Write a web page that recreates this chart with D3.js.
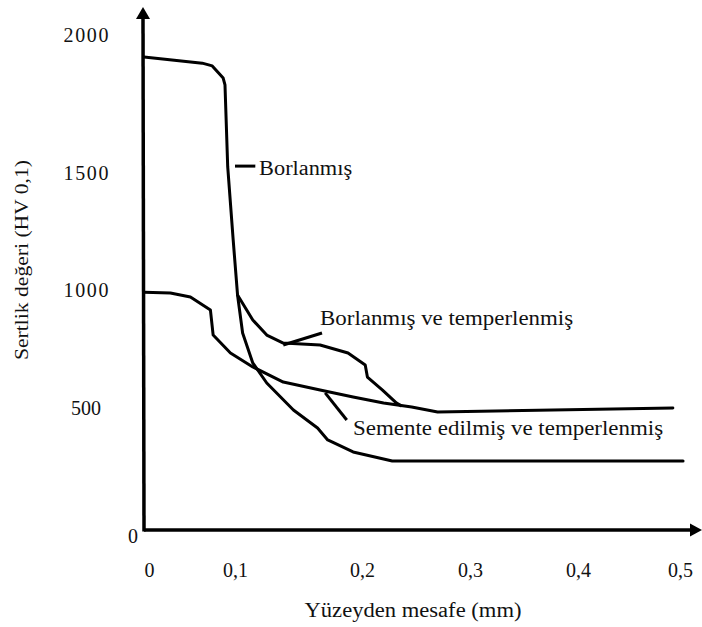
<!DOCTYPE html>
<html>
<head>
<meta charset="utf-8">
<script src="https://cdn.jsdelivr.net/npm/d3@7"></script>
<style>
  body { margin: 0; background: #fff; }
  text { font-family: "Liberation Serif", "DejaVu Serif", serif; fill: #111; }
</style>
</head>
<body>
<script>
// hardness profiles, [distance mm, HV 0.1]
const borlanmis = [[0, 1920], [0.064, 1898], [0.075, 1888], [0.081, 1866], [0.087, 1844],
  [0.089, 1819], [0.092, 1522], [0.098, 1214], [0.102, 979], [0.106, 818], [0.114, 691],
  [0.125, 606], [0.146, 492], [0.165, 418], [0.173, 369], [0.193, 320], [0.228, 283], [0.503, 283]];
const borlanmisTemper = [[0.102, 979], [0.114, 873], [0.125, 809], [0.138, 775], [0.167, 767],
  [0.189, 733], [0.203, 682], [0.205, 631], [0.219, 576], [0.232, 521], [0.236, 510]];
const sementeTemper = [[0, 990], [0.029, 987], [0.051, 970], [0.073, 915], [0.076, 809],
  [0.095, 733], [0.114, 674], [0.138, 610], [0.167, 576], [0.193, 547], [0.22, 521],
  [0.246, 504], [0.27, 484], [0.493, 500]];

const xTicks = [0, 0.1, 0.2, 0.3, 0.4, 0.5];
const yTicks = [0, 500, 1000, 1500, 2000];

// label text, leader line and text anchor in data units
const labels = [
  { text: 'Borlanmış', lead: [[0.1, 1525], [0.116, 1525]], at: [0.119, 1518] },
  { text: 'Borlanmış ve temperlenmiş', lead: [[0.138, 767], [0.1685, 818]], at: [0.167, 881] },
  { text: 'Semente edilmiş ve temperlenmiş', lead: [[0.171, 564], [0.188, 451]], at: [0.193, 418] },
];

const width = 702;
const height = 627;

// the printed figure is hand drawn, so the tick spacing is uneven
const x = d3.scaleLinear().domain(xTicks).range([144, 235, 362, 470, 578, 680]);
const y = d3.scaleLinear().domain(yTicks).range([530, 408, 290, 173, 35]);

const svg = d3.select('body').append('svg')
  .attr('width', width)
  .attr('height', height);

svg.append('rect').attr('width', width).attr('height', height).attr('fill', '#fff');

// axes lines with arrow heads
const x0 = x(0);
const y0 = y(0);
const arrowTop = 7;
svg.append('line')
  .attr('x1', x0).attr('y1', y0 + 1.5)
  .attr('x2', x0 - 1).attr('y2', arrowTop + 10)
  .attr('stroke', '#000').attr('stroke-width', 3.5);
svg.append('path')
  .attr('d', `M${x0 - 1},${arrowTop} L${x0 - 8},${arrowTop + 12} L${x0 + 6},${arrowTop + 12} Z`)
  .attr('fill', '#000');
svg.append('line')
  .attr('x1', x0).attr('y1', y0)
  .attr('x2', width - 10).attr('y2', y0)
  .attr('stroke', '#000').attr('stroke-width', 3.5);
svg.append('path')
  .attr('d', `M${width},${y0} L${width - 12},${y0 - 6.5} L${width - 12},${y0 + 6.5} Z`)
  .attr('fill', '#000');

const fmt = (d) => String(d).replace('.', ',');

const gx = svg.append('g')
  .attr('transform', `translate(0,${y0})`)
  .call(d3.axisBottom(x).tickValues(xTicks).tickSize(0).tickPadding(33).tickFormat(fmt));
gx.select('.domain').remove();
gx.selectAll('text')
  .style('font-family', '"Liberation Serif", serif')
  .attr('font-size', 20)
  .attr('fill', '#222')
  .attr('dx', (d) => (d === 0 ? 5 : 0));

const gy = svg.append('g')
  .attr('transform', `translate(${x0},0)`)
  .call(d3.axisLeft(y).tickValues(yTicks).tickSize(0).tickFormat(d3.format('d')));
gy.select('.domain').remove();
gy.selectAll('text')
  .style('font-family', '"Liberation Serif", serif')
  .attr('font-size', 20)
  .attr('fill', '#222')
  .attr('text-anchor', 'middle')
  .attr('x', (d) => (d === 0 ? -11 : -58))
  .attr('dy', (d) => (d === 0 ? '0.6em' : '0.34em'))
  .attr('textLength', (d) => (d >= 1000 ? 45 : null));

// curves
const line = d3.line().x((d) => x(d[0])).y((d) => y(d[1]));
[borlanmis, borlanmisTemper, sementeTemper].forEach((s) => {
  svg.append('path')
    .datum(s)
    .attr('d', line)
    .attr('fill', 'none')
    .attr('stroke', '#000')
    .attr('stroke-width', 3)
    .attr('stroke-linejoin', 'round')
    .attr('stroke-linecap', 'round');
});

// labels with leader lines
const labelWidth = { 'Borlanmış': 93, 'Borlanmış ve temperlenmiş': 253, 'Semente edilmiş ve temperlenmiş': 310 };
labels.forEach((l) => {
  svg.append('path')
    .datum(l.lead)
    .attr('d', line)
    .attr('stroke', '#000')
    .attr('stroke-width', 3)
    .attr('fill', 'none');
  svg.append('text')
    .attr('x', x(l.at[0]))
    .attr('y', y(l.at[1]))
    .attr('dy', '0.35em')
    .attr('font-size', 20)
    .attr('textLength', labelWidth[l.text])
    .attr('lengthAdjust', 'spacingAndGlyphs')
    .text(l.text);
});

// axis titles
svg.append('text')
  .attr('x', 413)
  .attr('y', 617)
  .attr('text-anchor', 'middle')
  .attr('font-size', 20)
  .attr('textLength', 217)
  .attr('lengthAdjust', 'spacingAndGlyphs')
  .text('Yüzeyden mesafe (mm)');

svg.append('text')
  .attr('transform', 'translate(28,260) rotate(-90)')
  .attr('text-anchor', 'middle')
  .attr('font-size', 19)
  .attr('textLength', 200)
  .attr('lengthAdjust', 'spacingAndGlyphs')
  .text('Sertlik değeri (HV 0,1)');
</script>
</body>
</html>
